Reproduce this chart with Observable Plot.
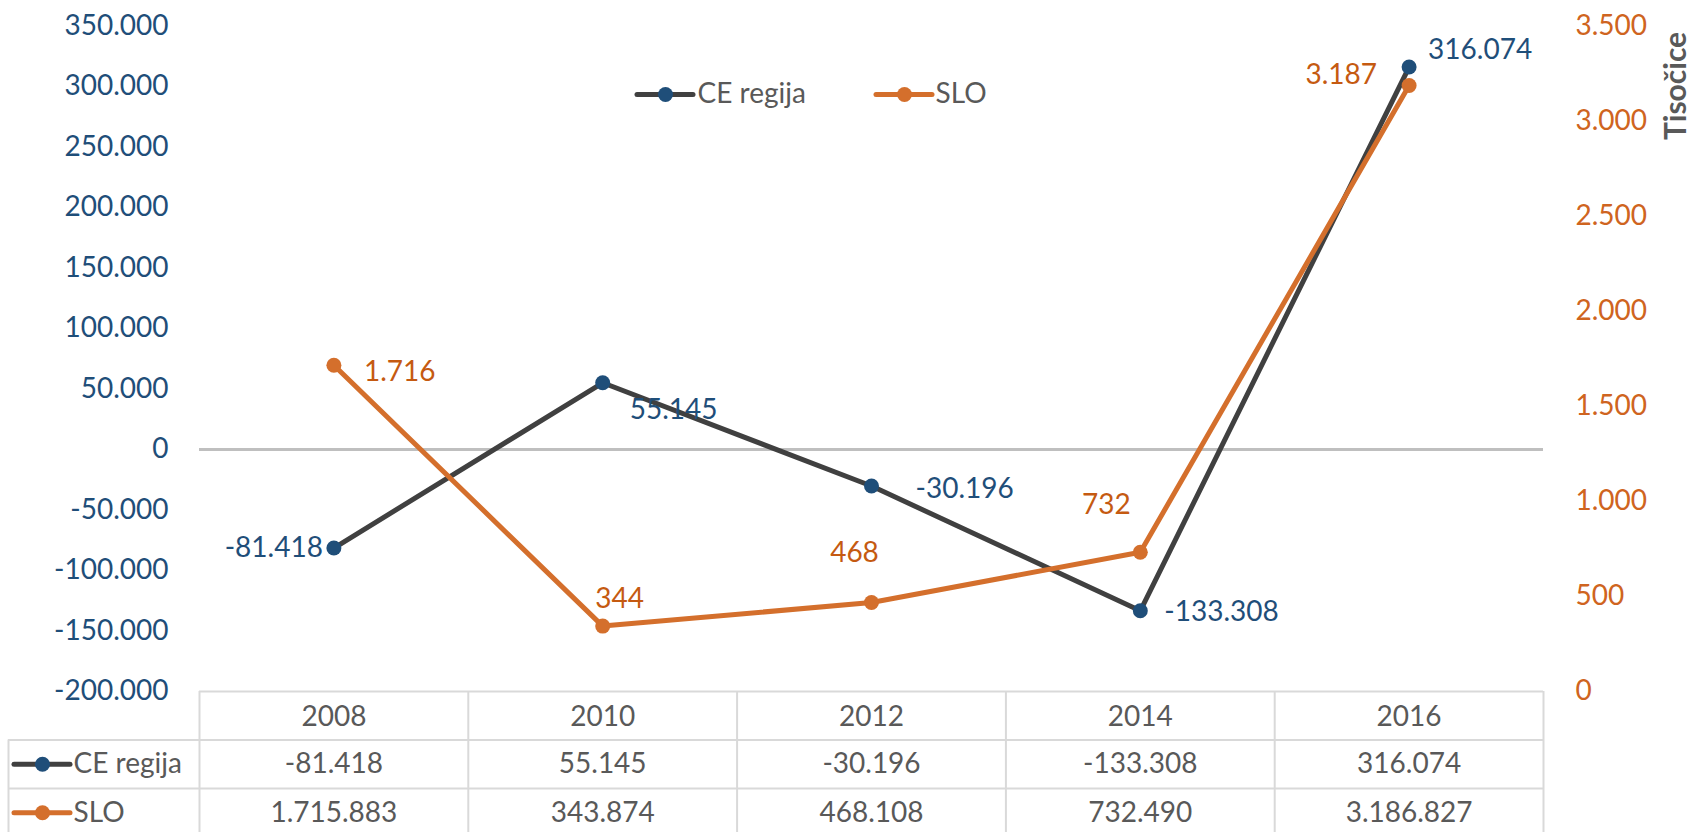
<!DOCTYPE html>
<html>
<head>
<meta charset="utf-8">
<script src="https://cdn.jsdelivr.net/npm/d3@7"></script>
<script src="https://cdn.jsdelivr.net/npm/@observablehq/plot@0.6"></script>
<style>
  html, body { margin: 0; padding: 0; background: #fff; }
  #chart { width: 1692px; height: 832px; overflow: hidden; }
  svg { font-family: Lato, "Open Sans", sans-serif; }
</style>
</head>
<body>
<div id="chart"></div>
<script>
// ---- data ----
const years = [2008, 2010, 2012, 2014, 2016];
const ceRegija = [-81418, 55145, -30196, -133308, 316074];
const slo = [1715883, 343874, 468108, 732490, 3186827];
const seriesNames = ["CE regija", "SLO"];
const leftTicks = [-200000, -150000, -100000, -50000, 0, 50000, 100000, 150000, 200000, 250000, 300000, 350000];
const rightTicks = [0, 500, 1000, 1500, 2000, 2500, 3000, 3500]; // thousands
const rightAxisTitle = "Tisočice";

// ---- label placement (styling) ----
const ceLabelPos = [
  {anchor: "end", dx: -11, dy: 0},
  {anchor: "start", dx: 27, dy: 27},
  {anchor: "start", dx: 44, dy: 3},
  {anchor: "start", dx: 24, dy: 1},
  {anchor: "start", dx: 19, dy: -17}
];
const sloLabelPos = [
  {anchor: "start", dx: 30, dy: 7},
  {anchor: "middle", dx: 17, dy: -27},
  {anchor: "middle", dx: -17, dy: -49},
  {anchor: "middle", dx: -34, dy: -47},
  {anchor: "end", dx: -32, dy: -11}
];

// ---- styles ----
const BLUE = "#1F4E79", GRAY_LINE = "#404040", ORANGE = "#D46F2C", ORANGE_TXT = "#C55A11", ORANGE_AX = "#CF6420";
const TXT = "#595959", GRID = "#D9D9D9", ZERO = "#BFBFBF";
const FS = 28;

const loc = d3.formatLocale({decimal: ",", thousands: ".", grouping: [3], currency: ["", "€"], minus: "-"});
const fmt = loc.format(",d");

const yDomain = [leftTicks[0], leftTicks[leftTicks.length - 1]];
const rMax = rightTicks[rightTicks.length - 1];
const toLeft = (k) => yDomain[0] + (k / rMax) * (yDomain[1] - yDomain[0]);
const fromLeft = (v) => (v - yDomain[0]) / (yDomain[1] - yDomain[0]) * rMax;

const xDomain = [years[0] - 1, years[years.length - 1] + 1];
const boundaries = [years[0] - 1, ...years.map(y => y + 1)];

const ceData = years.map((y, i) => ({year: y, v: ceRegija[i], ...ceLabelPos[i]}));
const sloData = years.map((y, i) => ({year: y, v: slo[i], k: slo[i] / 1000, yl: toLeft(slo[i] / 1000), ...sloLabelPos[i]}));

// layout constants
const W = 1692, H = 832, ML = 199, MR = 149, MT = 25.5, MB = 141;
const FL = ML, FR = W - MR; // frame left/right px
const ROW = 48.5;

function placedLabels(data, yAcc, textFn, color) {
  return data.map(d => Plot.text([d], {
    x: "year", y: yAcc, text: textFn, textAnchor: d.anchor,
    dx: d.dx, dy: d.dy, fill: color, fontSize: FS
  }));
}

function keyLine(yVal, dy, xa, xb, color) {
  return Plot.ruleY([yVal], {dy, insetLeft: xa - FL, insetRight: FR - xb, stroke: color, strokeWidth: 5, strokeLinecap: "round"});
}
function keyDot(anchor, dx, dy, color) {
  return Plot.dot([0], {frameAnchor: anchor, dx, dy, r: 7.5, fill: color, stroke: "none"});
}
function anchoredText(str, anchor, dx, dy, extra = {}) {
  return Plot.text([str], {frameAnchor: anchor, dx, dy, lineAnchor: "middle", textAnchor: "start", fill: TXT, fontSize: FS, ...extra});
}

const chart = Plot.plot({
  width: W, height: H,
  marginLeft: ML, marginRight: MR, marginTop: MT, marginBottom: MB,
  style: {fontFamily: "Lato, 'Open Sans', sans-serif", fontSize: FS + "px", background: "#fff", overflow: "visible"},
  x: {type: "linear", domain: xDomain},
  y: {domain: yDomain},
  marks: [
    // axes
    Plot.axisY({anchor: "left", ticks: leftTicks, tickFormat: fmt, tickSize: 0, tickPadding: 31, fontSize: FS, color: BLUE, label: null}),
    Plot.axisY({anchor: "right", ticks: rightTicks.map(toLeft), tickFormat: d => fmt(Math.round(fromLeft(d))), tickSize: 0, tickPadding: 32, fontSize: FS, color: ORANGE_AX, label: null}),
    anchoredText(rightAxisTitle, "top-right", 133, 60, {rotate: -90, textAnchor: "middle", fontWeight: "bold", fontSize: 30}),
    Plot.axisX({ticks: years, tickFormat: d => String(d), tickSize: 0, tickPadding: 15, fontSize: FS, color: TXT, label: null}),
    // zero line
    Plot.ruleY([0], {stroke: ZERO, strokeWidth: 3}),
    // table grid
    Plot.ruleX(boundaries, {y1: yDomain[0], y2: yDomain[0], insetBottom: -MB, stroke: GRID, strokeWidth: 2}),
    Plot.ruleX([boundaries[0]], {y1: yDomain[0], y2: yDomain[0], insetTop: ROW, insetBottom: -MB, dx: 8 - FL, stroke: GRID, strokeWidth: 2}),
    Plot.ruleY([yDomain[0]], {stroke: GRID, strokeWidth: 2}),
    Plot.ruleY([yDomain[0]], {dy: ROW, insetLeft: 8 - FL, stroke: GRID, strokeWidth: 2}),
    Plot.ruleY([yDomain[0]], {dy: 2 * ROW, insetLeft: 8 - FL, stroke: GRID, strokeWidth: 2}),
    // table values
    Plot.text(ceData, {x: "year", text: d => fmt(d.v), frameAnchor: "bottom", lineAnchor: "middle", dy: 1.5 * ROW, fill: TXT, fontSize: FS}),
    Plot.text(sloData, {x: "year", text: d => fmt(d.v), frameAnchor: "bottom", lineAnchor: "middle", dy: 2.5 * ROW, fill: TXT, fontSize: FS}),
    // table keys
    keyLine(yDomain[0], 1.5 * ROW, 14, 70, GRAY_LINE),
    keyDot("bottom-left", 42 - FL, 1.5 * ROW, BLUE),
    anchoredText(seriesNames[0], "bottom-left", 73 - FL, 1.5 * ROW),
    keyLine(yDomain[0], 2.5 * ROW, 14, 70, ORANGE),
    keyDot("bottom-left", 42 - FL, 2.5 * ROW, ORANGE),
    anchoredText(seriesNames[1], "bottom-left", 73 - FL, 2.5 * ROW),
    // top legend
    keyLine(yDomain[1], 68.5, 637, 693, GRAY_LINE),
    keyDot("top-left", 665 - FL, 68.5, BLUE),
    anchoredText(seriesNames[0], "top-left", 697 - FL, 68.5),
    keyLine(yDomain[1], 68.5, 876, 932, ORANGE),
    keyDot("top-left", 904 - FL, 68.5, ORANGE),
    anchoredText(seriesNames[1], "top-left", 935 - FL, 68.5),
    // series
    Plot.line(ceData, {x: "year", y: "v", stroke: GRAY_LINE, strokeWidth: 5, strokeLinejoin: "round", strokeLinecap: "round"}),
    Plot.dot(ceData, {x: "year", y: "v", r: 7.5, fill: BLUE, stroke: "none"}),
    Plot.line(sloData, {x: "year", y: "yl", stroke: ORANGE, strokeWidth: 5, strokeLinejoin: "round", strokeLinecap: "round"}),
    Plot.dot(sloData, {x: "year", y: "yl", r: 7.5, fill: ORANGE, stroke: "none"}),
    // data labels
    ...placedLabels(ceData, "v", d => fmt(d.v), BLUE),
    ...placedLabels(sloData, "yl", d => fmt(Math.round(d.k)), ORANGE_TXT)
  ]
});

document.getElementById("chart").appendChild(chart);
</script>
</body>
</html>
